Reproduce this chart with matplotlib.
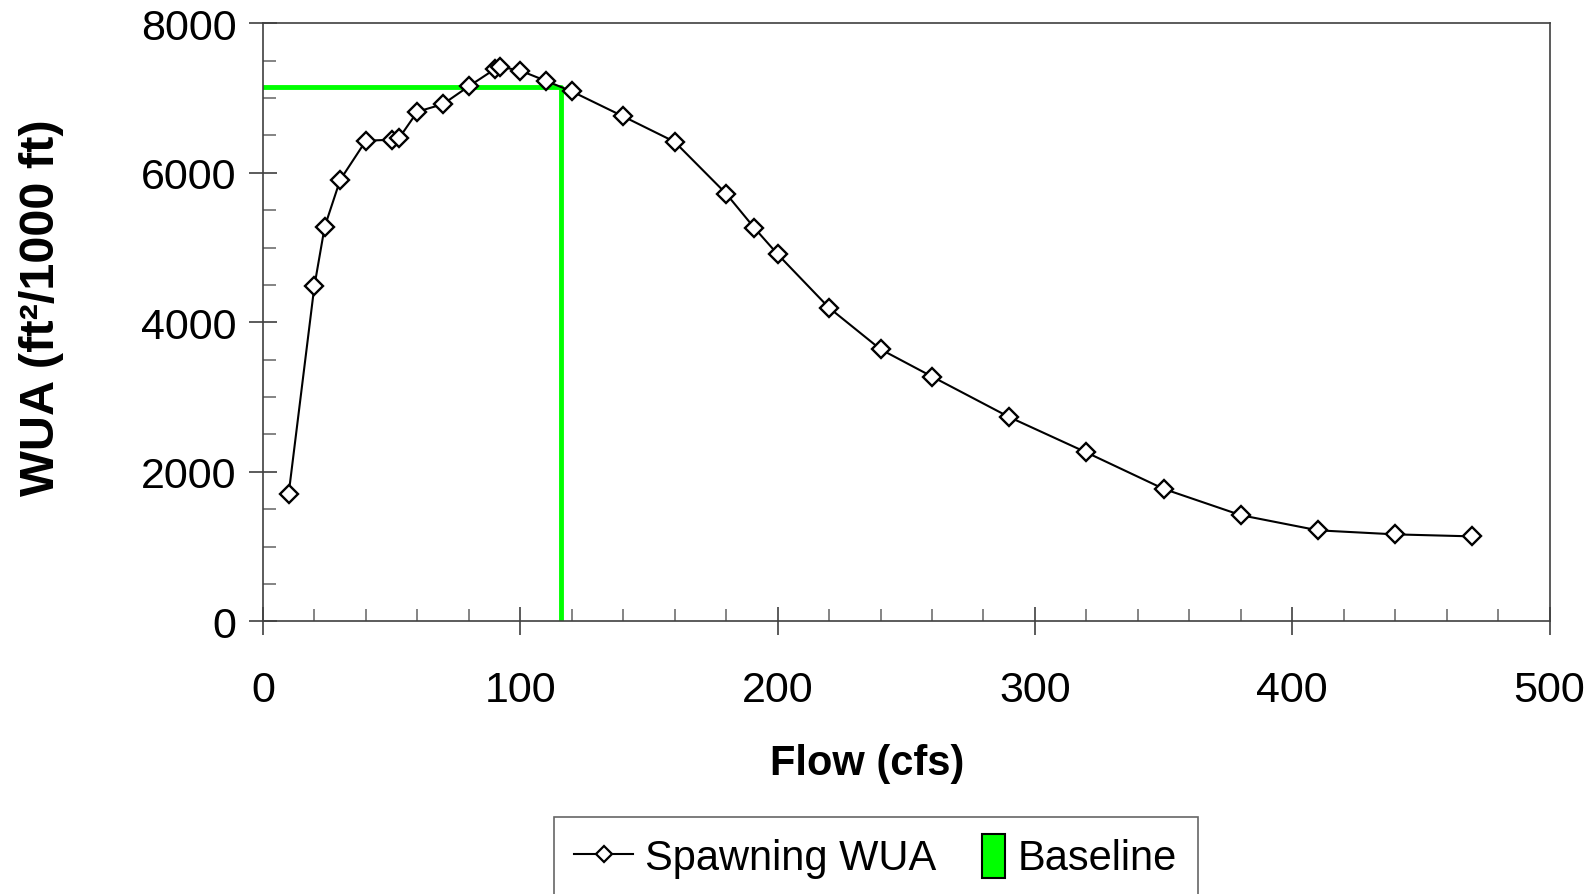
import numpy as np
import matplotlib.pyplot as plt
from matplotlib.patches import Rectangle
from matplotlib.lines import Line2D
from matplotlib.legend_handler import HandlerPatch
from matplotlib.ticker import MultipleLocator

plt.rcParams['font.family'] = ['Liberation Sans', 'DejaVu Sans']

# spawning WUA curve
flow = [10, 20, 24, 30, 40, 50, 53, 60, 70, 80, 90, 92, 100, 110, 120,
        140, 160, 180, 191, 200, 220, 240, 260, 290, 320, 350, 380, 410, 440, 470]
wua = [1710, 4490, 5280, 5905, 6430, 6443, 6470, 6818, 6920, 7158, 7385, 7420, 7368, 7230, 7090,
       6755, 6415, 5722, 5262, 4912, 4195, 3640, 3275, 2733, 2260, 1773, 1421, 1218, 1164, 1137]

# baseline flow / WUA
base_flow = 116
base_wua = 7145

green = '#00ff00'

fig = plt.figure(figsize=(15.87, 8.95), dpi=100)
ax = fig.add_axes([0.1657, 0.3046, 0.8107, 0.6682])

ax.plot([0, base_flow, base_flow], [base_wua, base_wua, 0], color=green, lw=3.5, zorder=2)
ax.plot(flow, wua, color='black', lw=1.5, marker='D', ms=9, mfc='white',
        mec='black', mew=1.7, zorder=3)

ax.set_xlim(0, 500)
ax.set_ylim(0, 8000)
ax.xaxis.set_major_locator(MultipleLocator(100))
ax.xaxis.set_minor_locator(MultipleLocator(20))
ax.yaxis.set_major_locator(MultipleLocator(2000))
ax.yaxis.set_minor_locator(MultipleLocator(500))

for s in ax.spines.values():
    s.set_color('#404040')
    s.set_linewidth(1.2)

ax.tick_params(which='major', direction='inout', length=20, width=1.2, color='#404040',
               labelsize=31)
ax.tick_params(which='minor', direction='in', length=9, width=1.2, color='#707070')
ax.tick_params(axis='x', which='major', pad=25)
ax.tick_params(axis='y', which='major', pad=9)

ax.set_xlabel('Flow (cfs)', fontsize=30, fontweight='bold')
ax.xaxis.label.set_va('center')
ax.xaxis.set_label_coords(0.470, -0.237)
ax.set_ylabel('WUA (ft²/1000 ft)', fontsize=35, fontweight='bold')
ax.yaxis.label.set_va('center')
ax.yaxis.set_label_coords(-0.172, 0.527)


def narrow_box(legend, orig_handle, xdescent, ydescent, width, height, fontsize):
    return Rectangle((width * 0.6 - xdescent, -ydescent - height * 0.3),
                     width * 0.4, height * 1.5)


h1 = Line2D([], [], color='black', lw=1.5, marker='D', ms=8, mfc='white', mec='black', mew=1.6)
h2 = Rectangle((0, 0), 1, 1, facecolor=green, edgecolor='black', lw=1.5)
leg = fig.legend([h1, h2], ['Spawning WUA', 'Baseline'], ncol=2, fontsize=30,
                 loc='upper left', bbox_to_anchor=(0.3488, 1 - 818 / 895), frameon=True,
                 fancybox=False, edgecolor='#404040', handlelength=1.4, handletextpad=0.3,
                 columnspacing=0.25, borderpad=0.5, borderaxespad=0,
                 handler_map={Rectangle: HandlerPatch(patch_func=narrow_box)})
leg.get_frame().set_linewidth(1.2)

fig.savefig('out.png', dpi=100)
